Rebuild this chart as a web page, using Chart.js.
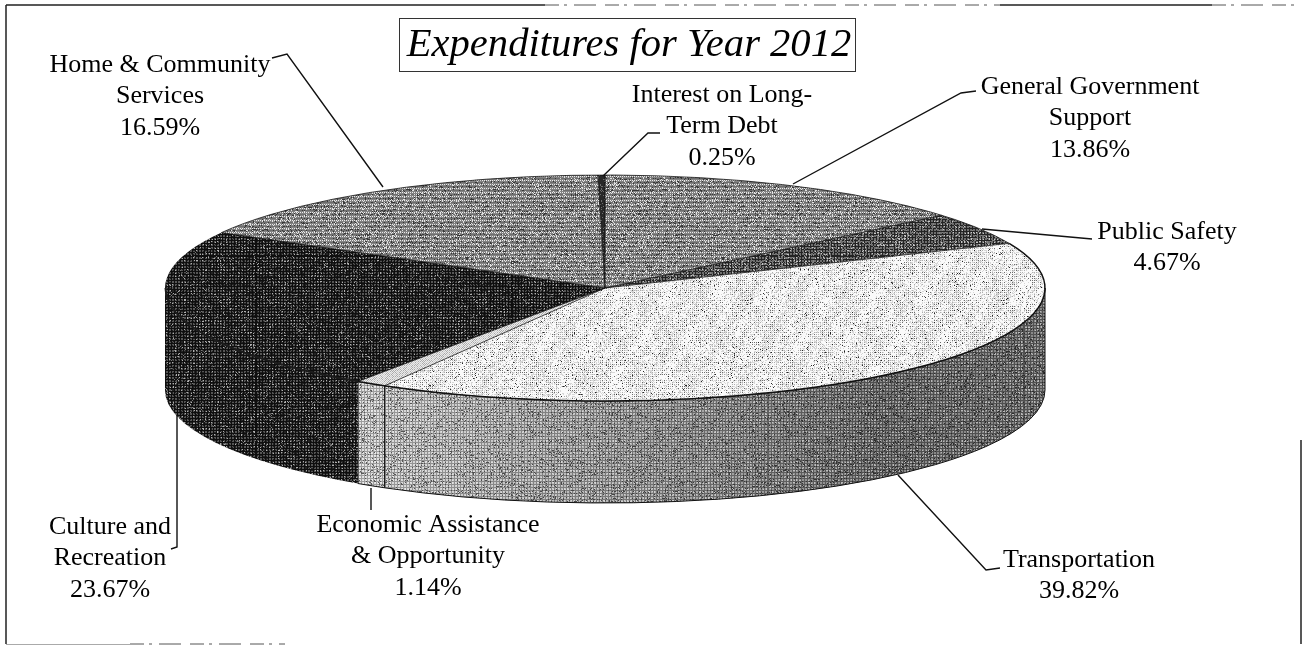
<!DOCTYPE html>
<html>
<head>
<meta charset="utf-8">
<title>Expenditures for Year 2012</title>
<script src="https://cdn.jsdelivr.net/npm/chart.js@4/dist/chart.umd.min.js"></script>
<style>
  html, body { margin: 0; padding: 0; background: #fff; }
  canvas { display: block; }
</style>
</head>
<body>
<canvas id="pie" width="1303" height="645"></canvas>
<script>
// expenditure shares, clockwise from 12 o'clock
var categories = ["General Government Support", "Public Safety", "Transportation", "Economic Assistance & Opportunity", "Culture and Recreation", "Home & Community Services", "Interest on Long-Term Debt"];
var shares = [13.86, 4.67, 39.82, 1.14, 23.67, 16.59, 0.25];
var titleText = "Expenditures for Year 2012";

// wrapped label text, one row per category
var labelLines = [
  ["General Government", "Support"],
  ["Public Safety"],
  ["Transportation"],
  ["Economic Assistance", "& Opportunity"],
  ["Culture and", "Recreation"],
  ["Home & Community", "Services"],
  ["Interest on Long-", "Term Debt"]
];

// where the labels sit and how their leaders run
var labelX = [1090, 1167, 1079, 428, 110, 160, 722];
var labelY = [87, 232, 560, 525, 527, 65, 95];
var leaders = [
  [[976, 91], [961, 93], [793, 184]],
  [[1092, 239], [982, 229]],
  [[1000, 568], [986, 570], [898, 475]],
  [[371, 510], [371, 488]],
  [[171, 549], [177, 547], [177, 415]],
  [[272, 58], [287, 54], [383, 187]],
  [[660, 133], [648, 133], [603, 176]]
];

var CX = 605, CY = 288, RX = 440, RY = 113, DEPTH = 102;
var K = RX / RY;
var FONT = '26px "Liberation Serif", serif';
var LINE_H = 31.5;
var TILE = 256;

function noise(x, y) {
  var n = Math.sin(x * 12.9898 + y * 78.233) * 43758.5453;
  return n - Math.floor(n);
}

// slow mottling that still wraps around the tile
function mottle(x, y) {
  var w = 2 * Math.PI / TILE;
  return 0.5 + 0.28 * Math.sin(w * 5 * x + 1.3) * Math.cos(w * 3 * y + 0.4) + 0.22 * Math.sin(w * 11 * x + w * 7 * y);
}

// builds a repeating print-screen tile; fn gives [gray, alpha] for a pixel
function makeTile(fn) {
  var c = document.createElement("canvas");
  c.width = c.height = TILE;
  var g = c.getContext("2d");
  var img = g.createImageData(TILE, TILE);
  for (var y = 0; y < TILE; y++) {
    for (var x = 0; x < TILE; x++) {
      var v = fn(x, y), i = (y * TILE + x) * 4;
      img.data[i] = img.data[i + 1] = img.data[i + 2] = v[0];
      img.data[i + 3] = v[1] === undefined ? 255 : v[1];
    }
  }
  g.putImageData(img, 0, 0);
  return c;
}

var midTile = makeTile(function (x, y) {
  var r = noise(x, y), m = mottle(x, y);
  if (y % 4 == 0) return [x % 2 == 0 ? 235 : 125];
  if (r < 0.1 + 0.12 * m) return [55];
  if (r > 0.95 - 0.08 * m) return [225];
  return [y % 4 == 2 ? 110 : 132];
});
var darkTile = makeTile(function (x, y) {
  var r = noise(x, y), m = mottle(x, y);
  if (x % 3 == 0 || y % 3 == 0) return [r > 0.97 ? 120 : 14];
  return [r > 0.95 - 0.1 * m ? 175 : r < 0.3 ? 35 : 85];
});
var safetyTile = makeTile(function (x, y) {
  var r = noise(x, y);
  if (x % 3 == 0 || y % 3 == 0) return [r > 0.8 ? 130 : 35];
  return [r > 0.85 ? 200 : 110];
});
var interestTile = makeTile(function (x, y) {
  return [noise(x, y) > 0.85 ? 110 : 40];
});
var lightTile = makeTile(function (x, y) {
  var r = noise(x, y), m = mottle(x, y);
  if (r < 0.012) return [35];
  if (x % 2 == 0 && y % 2 == 0 && r < 0.25 + 0.6 * m) return [r < 0.3 ? 110 : 175];
  return [r > 0.9 - 0.3 * m ? 215 : 250];
});
var econTile = makeTile(function (x, y) {
  return [x % 2 == y % 2 ? 235 : noise(x, y) > 0.5 ? 170 : 205];
});
// grid laid over the shaded walls
var wallTile = makeTile(function (x, y) {
  var r = noise(x, y);
  if (r < 0.12) return [0, 150];
  if (x % 3 == 0 || y % 3 == 0) return [0, 70];
  return [255, r > 0.8 ? 130 : 45];
});

var ctxMain = document.getElementById("pie").getContext("2d");

// the canvas is stretched sideways around CX while slices draw, so tiles get the inverse
function flatPattern(tile) {
  var p = ctxMain.createPattern(tile, "repeat");
  p.setTransform(new DOMMatrix([1 / K, 0, 0, 1, CX - CX / K, 0]));
  return p;
}

var sliceFills = [midTile, safetyTile, lightTile, econTile, darkTile, midTile, interestTile].map(flatPattern);

function ellipseX(t) { return CX + RX * Math.cos(t); }
function ellipseY(t) { return CY + RY * Math.sin(t); }

function transportShade(g) {
  var grad = g.createLinearGradient(385, 0, 1045, 0);
  grad.addColorStop(0, "#d2d2d2");
  grad.addColorStop(0.3, "#aaaaaa");
  grad.addColorStop(0.55, "#8a8a8a");
  grad.addColorStop(0.75, "#6c6c6c");
  grad.addColorStop(1, "#707070");
  return grad;
}

// side of the disc under every slice that reaches the front half
var wallPlugin = {
  id: "wall",
  beforeDatasetsDraw: function (chart) {
    var g = chart.ctx;
    var grid = g.createPattern(wallTile, "repeat");
    var dark = g.createPattern(darkTile, "repeat");
    chart.getDatasetMeta(0).data.forEach(function (arc, i) {
      var a = Math.max(arc.startAngle, 0), b = Math.min(arc.endAngle, Math.PI);
      if (b <= a) return;
      g.beginPath();
      g.ellipse(CX, CY, RX, RY, 0, a, b);
      g.ellipse(CX, CY + DEPTH, RX, RY, 0, b, a, true);
      g.closePath();
      if (i == 4) {
        // culture stays one dark mass with its top face
        g.fillStyle = dark;
        g.fill();
        return;
      }
      g.fillStyle = i == 2 ? transportShade(g) : "#d8d8d8";
      g.fill();
      g.fillStyle = grid;
      g.fill();
      g.strokeStyle = "#111";
      g.lineWidth = 1;
      g.stroke();
    });
  },
  beforeDatasetDraw: function (chart) {
    var g = chart.ctx;
    g.save();
    g.translate(CX, 0);
    g.scale(K, 1);
    g.translate(-CX, 0);
  },
  afterDatasetDraw: function (chart) {
    chart.ctx.restore();
  },
  afterDatasetsDraw: function (chart) {
    var g = chart.ctx;
    var arcs = chart.getDatasetMeta(0).data;
    g.strokeStyle = "rgba(10,10,10,0.75)";
    g.lineWidth = 1;
    arcs.forEach(function (arc) {
      g.beginPath();
      g.moveTo(CX, CY);
      g.lineTo(ellipseX(arc.startAngle), ellipseY(arc.startAngle));
      g.stroke();
    });
    // rim: heavy along the light front, thin round the back
    g.beginPath();
    g.ellipse(CX, CY, RX, RY, 0, arcs[4].endAngle, arcs[2].startAngle + 2 * Math.PI);
    g.stroke();
    g.strokeStyle = "#111";
    g.lineWidth = 1.5;
    g.beginPath();
    g.ellipse(CX, CY, RX, RY, 0, arcs[2].startAngle, arcs[3].endAngle);
    g.stroke();
    // hides the seam between the culture face and its wall
    g.strokeStyle = "#1c1c1c";
    g.lineWidth = 2;
    g.beginPath();
    g.ellipse(CX, CY, RX - 0.5, RY, 0, arcs[4].startAngle, Math.PI);
    g.stroke();
  }
};

// frame, title box, labels and leaders
var labelPlugin = {
  id: "labels",
  afterDraw: function (chart) {
    var g = chart.ctx;
    g.save();
    g.strokeStyle = "#222";
    g.lineWidth = 1.5;
    g.beginPath();
    g.moveTo(6, 5); g.lineTo(6, 644);
    g.moveTo(6, 5); g.lineTo(545, 5);
    g.moveTo(1000, 5); g.lineTo(1212, 5);
    g.moveTo(1301, 440); g.lineTo(1301, 644);
    g.stroke();
    // the frame breaks up where the rule thins out
    g.lineWidth = 1;
    g.strokeStyle = "#555";
    g.setLineDash([14, 5, 3, 7, 22, 9]);
    g.beginPath();
    g.moveTo(545, 5); g.lineTo(1000, 5);
    g.moveTo(1212, 5); g.lineTo(1301, 5);
    g.moveTo(130, 644); g.lineTo(285, 644);
    g.stroke();
    g.setLineDash([]);
    g.strokeStyle = "#aaa";
    g.beginPath();
    g.moveTo(6, 644.5); g.lineTo(130, 644.5);
    g.stroke();

    g.strokeStyle = "#333";
    g.lineWidth = 1;
    g.strokeRect(399.5, 18.5, 456, 53);
    g.fillStyle = "#000";
    g.textAlign = "center";
    g.textBaseline = "middle";
    g.font = 'italic 40.6px "Liberation Serif", serif';
    g.fillText(titleText, 629, 45);

    g.lineWidth = 1.4;
    g.strokeStyle = "#111";
    leaders.forEach(function (pts) {
      g.beginPath();
      pts.forEach(function (p, j) {
        if (j == 0) g.moveTo(p[0], p[1]); else g.lineTo(p[0], p[1]);
      });
      g.stroke();
    });

    g.font = FONT;
    categories.forEach(function (name, i) {
      var rows = labelLines[i].concat([shares[i].toFixed(2) + "%"]);
      rows.forEach(function (row, j) {
        g.fillText(row, labelX[i], labelY[i] + j * LINE_H);
      });
    });
    g.restore();
  }
};

new Chart(ctxMain, {
  type: "pie",
  data: {
    labels: categories,
    datasets: [{
      data: shares,
      backgroundColor: sliceFills,
      borderWidth: 0
    }]
  },
  options: {
    responsive: false,
    animation: false,
    events: [],
    rotation: 0,
    layout: { padding: { top: CY - RY, bottom: 645 - CY - RY, left: 0, right: 1303 - 2 * CX } },
    plugins: { legend: { display: false }, title: { display: false }, tooltip: { enabled: false } }
  },
  plugins: [wallPlugin, labelPlugin]
});
</script>
</body>
</html>
